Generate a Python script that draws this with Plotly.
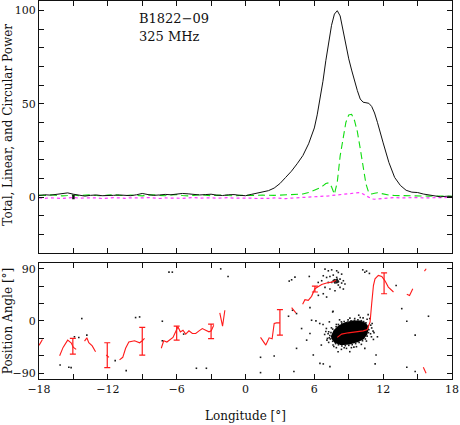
import plotly.graph_objects as go

# ---------------- profile data ----------------
lon_prof = [-18, -17.5, -17, -16.5, -16, -15.5, -15, -14.5, -14, -13.5, -13, -12.5, -12, -11.5,
            -11, -10.5, -10, -9.5, -9, -8.5, -8, -7.5, -7, -6.5, -6, -5.5, -5, -4.5, -4, -3.5,
            -3, -2.5, -2, -1.5, -1, -0.5,
            0, 0.5, 1, 1.5, 2, 2.5, 3, 3.5, 4, 4.5, 5, 5.5, 6,
            6.25, 6.5, 6.75, 7, 7.25, 7.5, 7.75, 8, 8.25, 8.5, 8.75, 9, 9.25, 9.5, 9.75, 10,
            10.25, 10.5, 10.75, 11, 11.25, 11.5, 11.75, 12,
            12.5, 13, 13.5, 14, 14.5, 15, 15.5, 16, 16.5, 17, 17.5, 18]

total_I = [0.8, 1.2, 1.0, 1.3, 1.6, 2.2, 1.5, 0.8, 0.5, 0.9, 1.1, 0.7, 0.6, 0.9,
           1.1, 0.8, 0.7, 1.2, 1.9, 1.3, 0.9, 1.1, 1.4, 1.2, 1.5, 1.9, 1.7, 1.4, 1.1, 1.3,
           1.5, 1.0, 0.8, 1.2, 1.3, 0.9,
           0.7, 1.4, 2.0, 2.6, 3.4, 4.8, 7.2, 10.5, 13.8, 17.8, 22.2, 28.5, 37,
           44, 52, 62, 73, 83, 92, 98, 99.8, 97, 89, 81, 74, 68, 62, 57, 52.5,
           50.8, 50.5, 50.2, 48.5, 45, 40, 35, 29,
           18.5, 10.5, 6.2, 3.6, 2.6, 2.4, 1.6, 1.2, 0.7, 0.1, 0.4, 0.3]

linear_L = [1.0, 0.8, 1.2, 0.9, 0.6, 0.8, 1.1, 0.7, 0.9, 1.2, 0.8, 0.6, 1.0, 1.3,
            0.9, 0.7, 1.1, 0.8, 0.6, 1.0, 1.2, 0.9, 0.7, 1.1, 1.3, 0.8, 0.6, 0.9, 1.2, 1.0,
            0.7, 0.9, 1.1, 0.8, 0.6, 0.9,
            0.8, 0.7, 0.9, 1.0, 0.8, 0.9, 1.0, 1.1, 1.2, 1.4, 1.6, 2.4, 3.6,
            4.2, 5.0, 6.0, 7.2, 7.6, 5.5, 1.5, 8, 22, 32, 40, 44, 44.3, 41, 35, 26,
            16.5, 7, 2.2, 1.6, 2.0, 2.3, 2.0, 1.6,
            1.0, 0.8, 0.7, 0.9, 0.6, 0.8, 0.7, 0.5, 0.6, 0.4, 0.5, 0.4]

circular_V = [-0.5, -0.7, -0.4, -0.6, -0.8, -0.5, -0.3, -0.6, -0.7, -0.4, -0.5, -0.8, -0.6, -0.3,
              -0.5, -0.7, -0.4, -0.6, -0.5, -0.3, -0.6, -0.8, -0.5, -0.4, -0.6, -0.7, -0.5, -0.3,
              -0.6, -0.5, -0.4, -0.7, -0.5, -0.3, -0.6, -0.5,
              -0.4, -0.6, -0.8, -0.9, -0.7, -0.5, -0.8, -0.9, -0.6, -0.4, -0.5, -0.3, -0.2,
              -0.1, 0.1, 0.3, 0.4, 0.6, 0.8, 0.9, 1.0, 1.1, 1.3, 1.5, 1.7, 1.9, 2.1, 2.3, 2.4,
              1.6, 0.6, -0.3, -1.0, -1.2, -1.1, -0.8, -0.6,
              -0.4, -0.3, -0.5, -0.4, -0.2, -0.3, -0.5, -0.4, -0.3, -0.2, -0.3, -0.2]

noise_lon = [-15]
noise_val = [0]
noise_err = [1.2]

# ---------------- position angle data ----------------
pa_lon = [-18, -17.7, None,
          -16.2, -15.9, -15.5, -15.2, -15.0, -14.76, None,
          -14.03, -13.83, -13.66, -13.36, -13.07, None,
          -12.14, -11.9, None,
          -10.98, -10.7, -10.45, -10.17, -9.67, -9.23, -9.0, -8.8, None,
          -7.34, -7.13, -6.85, -6.55, -6.32, -6.09, -5.89, -5.68, -5.45, -5.21, -4.93, -4.63,
          -4.34, -4.05, -3.76, -3.47, -3.18, -2.99, -2.77, None,
          -2.24, -2.0, -1.8, None,
          1.31, 1.77, 2.06, 2.32, 2.5, 2.7, 3.0, None,
          4.02, 4.39, None,
          4.98, 5.18, 5.47, 5.76, 6.05, 6.25, 6.64, 7.07, 7.5, 7.89, None,
          8.0, 8.38, 8.96, 9.69, 10.27, 10.62, 10.86, 11.0, 11.15, 11.29, 11.58, 11.88, 12.17,
          12.45, 12.75, 12.9, None,
          14.06, 14.3, 14.58, None,
          15.6, 15.75, None,
          15.5, 15.74]
pa_val = [-42, -32, None,
          -60, -45.5, -33, -37.5, -45.5, -49, None,
          -34.6, -29, -37.5, -43, -53, None,
          -58.6, -62.6, None,
          -67, -62.6, -47, -36, -34, -37.5, -34, -30, None,
          -47, -34, -36.3, -31.7, -28.3, -18.7, -10, -18.7, -15.8, -22.6, -17, -21.5,
          -21.5, -17, -13, -15.8, -18.7, -17, -7.2, None,
          14, -9, 18.5, None,
          -28.3, -41.5, -29, -30.7, -4.3, -3.3, -3.3, None,
          23, 14, None,
          28.8, 36.8, 35.7, 42.5, 55.7, 58.5, 63, 65.4, 67, 70, None,
          -28.3, -22.6, -20.4, -18.7, -17, -14.6, -1.5, 30, 61, 72.8, 78.5, 76.8, 68.8,
          58.5, 51.6, 50, None,
          46, 44, 55.7, None,
          86, 90, None,
          -79.7, -90]

err_lon = [-15.05, -12.05, -9.0, -6.0, -3.0, 3.0, 6.05, 12.08]
err_pa = [-43.5, -59, -35, -21, -18, -2.3, 55, 65]
err_size = [13.5, 21.5, 24, 12, 12.5, 22, 5, 18]

# dense core of single-pulse position angles (outline of the solid region)
blob_lon = [7.5, 7.75, 8.15, 8.7, 9.35, 10.0, 10.45, 10.65, 10.55, 10.25, 9.75, 9.05, 8.35, 7.8, 7.5]
blob_pa = [-28, -17, -9, -4, -1, -1, -5, -12, -22, -30, -35, -39, -40, -36, -28]

# single-pulse dots
dot_lon = [7.35, 7.4, 7.45, 7.6, 7.9, 8.1, 8.4, 8.6, 8.9, 9.2, 9.5, 9.8, 10.1, 10.3, 10.5, 10.7,
           10.75, 10.72, 10.6, 10.45, 10.2, 9.9, 9.6, 9.3, 9.0, 8.7, 8.4, 8.1, 7.85, 7.6, 7.3,
           7.2, 11.0, 10.9, 9.45, 8.6, 7.7, 7.1, 7.0, 8.2, 9.1, 10.0, 10.6, 11.2,
           7.63, 9.87, 10.69, 6.47, 6.76, 7.05, 6.9, 7.14, 7.25, 7.63, 7.92, 8.36, 8.8, 9.23,
           9.67, 10.1, 10.54, 10.98, 11.12, 11.04, 10.83, 10.25, 9.52, 8.94, 8.36, 7.92, 7.49,
           7.25, 11.5, 9.09, 8.07, 10.4, 6.61,
           6.93, 7.22, 7.51, 7.95, 8.09, 8.38, 7.65, 7.36, 7.07, 6.78, 7.95, 8.24, 8.53, 8.67,
           8.09, 7.8, 7.65, 7.51, 7.22, 6.93, 7.36, 7.8, 8.24, 8.53, 6.64, 6.34, 8.38, 8.09,
           7.86, 7.74, 7.8, 7.9, 8.0, 7.85, 7.95, 8.05, 7.75, 7.7, 8.1, 7.92, 8.0,
           3.81, 4.02, 4.31, 5.56, 10.22, 10.4, 10.55, 10.8, 13.13, 13.62, 14.06, 15.95, 14.79,
           5.62, 5.76, 6.14, 7.6, 7.31, 4.89, 5.62, 5.33, 4.45, 5.91, 6.49, 6.78, 7.36, 11.3,
           14.06, 14.79, 1.31, 1.31, 4.22, 2.5, 3.75, 4.1, 4.45, 11.15, 11.38, 10.92,
           6.35, 6.78, 7.07,
           -14.27, -14.91, -14.53, -13.83, -16.16, -15.4, -15.2, -11.36, -10.4, -9.58, -9.23,
           -7.25, -7.25, -6.67, -6.38, -5.39, -4.28, -3.41, -2.16, -1.52]
dot_pa = [-25, -31, -20, -14, -10, -6, -4, -1, -2, 0.5, 1, 2, 0.5, -1, -3, -8,
          -15, -20, -26, -31, -34, -37, -39, -41, -42, -42.5, -43, -41, -39, -35, -29,
          -22, -12, -22, -45, -46, -44, -33, -18, 2, 5, 6, 3, -20,
          16.8, 10, 11, -4.3, -6, -12.9, -23.2, -30, -36.9, -41.5, -46, -48.9, -47.2, -46,
          -44.3, -40.3, -34.6, -27.2, -17.5, -4.3, 4.2, 5.4, 4.2, 2, -1.5, -6, -11.8,
          -18.6, -27.2, -52.9, -52.9, -47.2, -41.5,
          89.4, 86.5, 88.2, 86.5, 83.7, 80.8, 79.1, 76.8, 75.1, 78, 75.1, 72.2, 69.4, 63.7,
          62, 65.4, 69.4, 66.5, 66.5, 58, 55.1, 52.2, 58, 55.1, 69.4, 66.5, 65.4, 67.7,
          67.7, 71.1, 68, 69, 67, 70.5, 66, 69.5, 67, 69, 68, 71, 72,
          68.8, 71, 75.6, 76.8, 88.2, 84, 86, 82, 61.3, 21.3, -0.4, 8.2, -24.4,
          23, 1.3, 0.2, 15.6, -1.5, -13, -21.5, -33, -47.2, -58.6, -73, -74, -78.6, -74,
          -79.8, -87.2, -62.6, -89, -87.2, -60.4, 8.2, 18.5, 12.8, -31.8, -58.6, -7.2,
          44.2, 47, 41.3,
          4.2, -27.2, -28.4, -24.4, -75.8, -79.8, -80.4, -68.4, -85.5, 5.9, 7,
          -0.4, -34.1, 84.2, 84.2, -22.6, -81.5, -81.5, 89.9, 76.8]

# ---------------- ticks ----------------
x_tickvals = [-18, -15, -12, -9, -6, -3, 0, 3, 6, 9, 12, 15, 18]
x_ticktext = ["−18", "", "−12", "", "−6", "", "0", "", "6", "", "12", "", "18"]
y1_tickvals = [-30, -20, -10, 0, 10, 20, 30, 40, 50, 60, 70, 80, 90, 100]
y1_ticktext = ["", "", "", "0", "", "", "", "", "50", "", "", "", "", "100"]
y2_tickvals = [-90, -60, -30, 0, 30, 60, 90]
y2_ticktext = ["−90", "", "", "0", "", "", "90"]

FONT = "DejaVu Serif"
INK = "#111111"

fig = go.Figure()

fig.add_trace(go.Scatter(x=lon_prof, y=circular_V, mode="lines", xaxis="x", yaxis="y",
                         line=dict(color="#ff33ff", width=1.2, dash="dot")))
fig.add_trace(go.Scatter(x=lon_prof, y=linear_L, mode="lines", xaxis="x", yaxis="y",
                         line=dict(color="#11dd11", width=1.1, dash="7px,4px")))
fig.add_trace(go.Scatter(x=lon_prof, y=total_I, mode="lines", xaxis="x", yaxis="y",
                         line=dict(color=INK, width=1)))
fig.add_trace(go.Scatter(x=noise_lon, y=noise_val, mode="markers", xaxis="x", yaxis="y",
                         marker=dict(size=1, color=INK, opacity=0),
                         error_y=dict(type="data", array=noise_err, color=INK, thickness=2.5, width=0)))

# bottom panel
fig.add_trace(go.Scatter(x=blob_lon, y=blob_pa, mode="lines", fill="toself", xaxis="x2", yaxis="y2",
                         fillcolor="#000000", line=dict(color="#000000", width=2)))
fig.add_trace(go.Scatter(x=dot_lon, y=dot_pa, mode="markers", xaxis="x2", yaxis="y2",
                         marker=dict(size=1.6, symbol="square", color="#1a1a1a", line=dict(width=0))))
fig.add_trace(go.Scatter(x=pa_lon, y=pa_val, mode="lines", xaxis="x2", yaxis="y2",
                         connectgaps=False, line=dict(color="#ff1a1a", width=1.1)))
fig.add_trace(go.Scatter(x=err_lon, y=err_pa, mode="markers", xaxis="x2", yaxis="y2",
                         marker=dict(size=1, color="#ff1a1a", opacity=0),
                         error_y=dict(type="data", array=err_size, color="#ff1a1a", thickness=1.2, width=3)))

axis_common = dict(showline=True, linecolor=INK, linewidth=1, mirror="ticks", ticks="inside",
                   ticklen=5, tickwidth=1, tickcolor=INK, showgrid=False, zeroline=False,
                   tickfont=dict(family=FONT, size=11, color=INK))

fig.update_layout(
    width=460, height=425,
    margin=dict(l=39, r=8, t=1, b=46),
    paper_bgcolor="white", plot_bgcolor="white",
    showlegend=False,
    hovermode=False,
    xaxis=dict(domain=[0, 1], range=[-18, 18], anchor="y", tickvals=x_tickvals,
               showticklabels=False, **axis_common),
    yaxis=dict(domain=[0.3333, 1], range=[-30, 105], anchor="x", tickvals=y1_tickvals,
               ticktext=y1_ticktext, **axis_common),
    xaxis2=dict(domain=[0, 1], range=[-18, 18], anchor="y2", matches="x", tickvals=x_tickvals,
                ticktext=x_ticktext, **axis_common),
    yaxis2=dict(domain=[0, 0.3069], range=[-100, 100], anchor="x2", tickvals=y2_tickvals,
                ticktext=y2_ticktext, **axis_common),
    annotations=[
        dict(text="B1822−09", xref="paper", yref="paper", x=0.237, y=0.953, xanchor="left",
             yanchor="middle", showarrow=False, font=dict(family=FONT, size=13, color=INK)),
        dict(text="325 MHz", xref="paper", yref="paper", x=0.237, y=0.907, xanchor="left",
             yanchor="middle", showarrow=False, font=dict(family=FONT, size=13, color=INK)),
        dict(text="Total, Linear, and Circular Power", xref="paper", yref="paper",
             x=-0.075, y=0.673, xanchor="center", yanchor="middle", textangle=-90,
             showarrow=False, font=dict(family=FONT, size=12, color=INK)),
        dict(text="Position Angle [°]", xref="paper", yref="paper",
             x=-0.075, y=0.153, xanchor="center", yanchor="middle", textangle=-90,
             showarrow=False, font=dict(family=FONT, size=12, color=INK)),
        dict(text="Longitude [°]", xref="paper", yref="paper",
             x=0.5, y=-0.098, xanchor="center", yanchor="middle",
             showarrow=False, font=dict(family=FONT, size=12, color=INK)),
    ],
)

fig.write_html("out.html", config={"displayModeBar": False, "staticPlot": True},
               post_script="document.body.style.margin='0';document.body.style.overflow='hidden';")
